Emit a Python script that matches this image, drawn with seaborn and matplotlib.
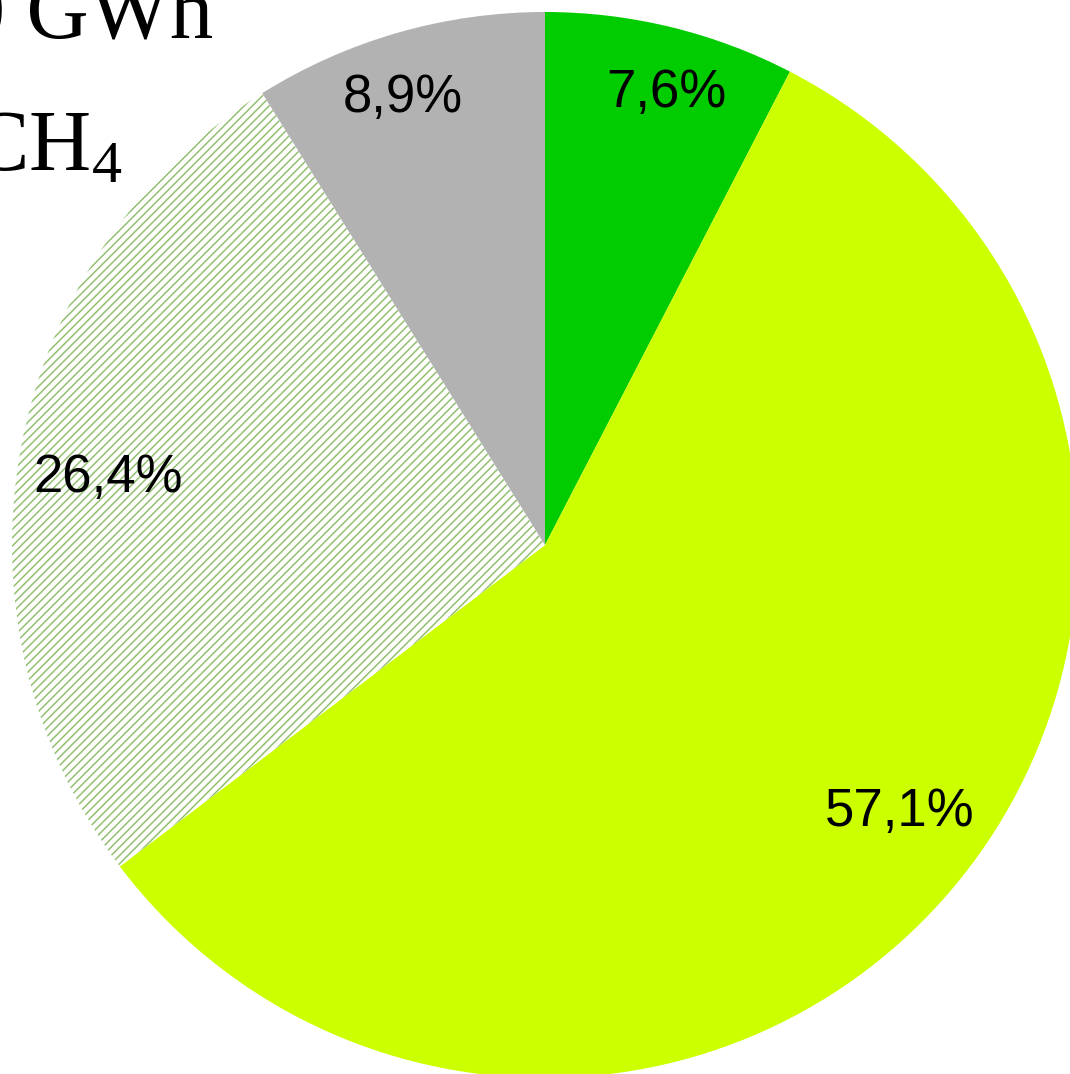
import matplotlib
matplotlib.use('Agg')
import numpy as np
import matplotlib.pyplot as plt
import seaborn as sns

# Data
categories = ['Segment A', 'Segment B', 'Segment C', 'Segment D']
shares = [7.6, 57.1, 26.4, 8.9]

# Styles
colors = ['#00cc00', '#ccff00', '#ffffff', '#b2b2b2']
hatches = ['', '', '////', '']
label_radius = [0.878, 0.833, 0.83, 0.88]
label_angle_shift = [-1.4, 3.1, 1.7, 1.6]

sns.set_theme(style='white')
plt.rcParams['font.family'] = ['Liberation Sans', 'DejaVu Sans']
plt.rcParams['hatch.linewidth'] = 1.1
plt.rcParams['mathtext.fontset'] = 'custom'
plt.rcParams['mathtext.rm'] = 'Liberation Serif'
plt.rcParams['mathtext.it'] = 'Liberation Serif:italic'
plt.rcParams['mathtext.bf'] = 'Liberation Serif:bold'

W, H = 1070, 1074
fig = plt.figure(figsize=(W / 100, H / 100), dpi=100)
ax = fig.add_axes([0, 0, 1, 1])

wedges, texts, autotexts = ax.pie(
    shares, colors=colors, startangle=90, counterclock=False, radius=1,
    autopct=lambda p: f'{p:.1f}%'.replace('.', ','), pctdistance=0.86,
    wedgeprops=dict(linewidth=0),
    textprops=dict(fontsize=38, color='black'))

for w, h in zip(wedges, hatches):
    if h:
        w.set_hatch(h)
        w.set_edgecolor('#92c070')
        w.set_linewidth(0)

for w, t, r, da in zip(wedges, autotexts, label_radius, label_angle_shift):
    ang = np.deg2rad((w.theta1 + w.theta2) / 2 + da)
    t.set_position((r * np.cos(ang), r * np.sin(ang)))
    t.set_ha('center')
    t.set_va('center')

R = 533.0
cx, cy = 545.0, 545.0
ax.set_xlim(-cx / R, (W - cx) / R)
ax.set_ylim(-(H - cy) / R, cy / R)
ax.set_aspect('equal')
ax.axis('off')

fig.text(213 / W, 1 - 38 / H, '0 GWh', ha='right', va='baseline',
         fontsize=62, family='Liberation Serif', color='black')
fig.text(122 / W, 1 - 170 / H, 'CH$_4$', ha='right', va='baseline',
         fontsize=62, family='Liberation Serif', color='black')

fig.savefig('out.png', dpi=100, facecolor='white')
